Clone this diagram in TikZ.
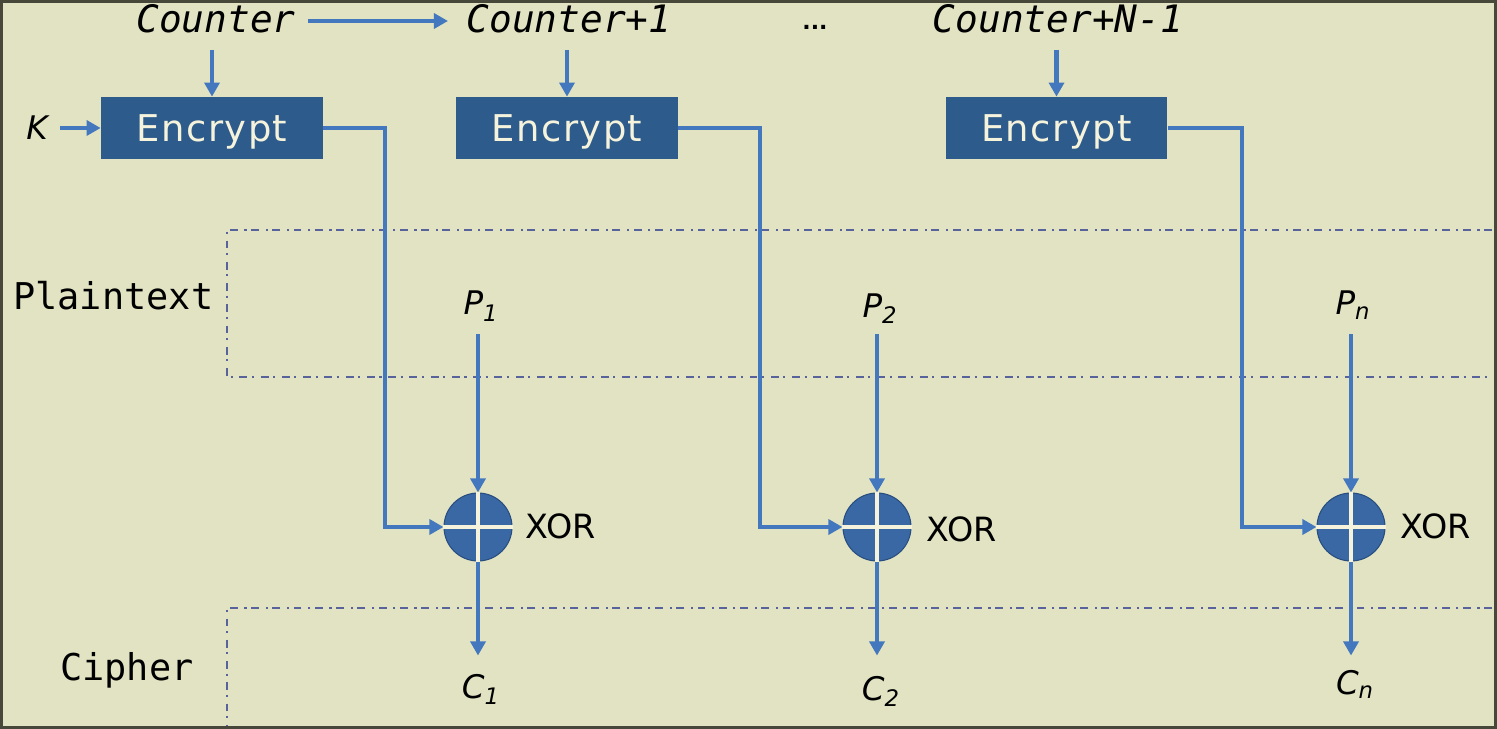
\documentclass[tikz,border=0pt]{standalone}
\usepackage{fontspec}
\newfontfamily\monof{DejaVu Sans Mono}
\newfontfamily\sansf{DejaVu Sans}
\newfontfamily\spacedf[LetterSpace=4]{DejaVu Sans}
\usetikzlibrary{arrows.meta,calc}
\definecolor{bg}{RGB}{225,227,195}
\definecolor{ablue}{RGB}{68,120,190}
\definecolor{boxblue}{RGB}{45,91,140}
\definecolor{xblue}{RGB}{58,104,165}
\definecolor{xdark}{RGB}{40,78,128}
\definecolor{cream}{RGB}{246,243,220}
\definecolor{ddcol}{RGB}{88,98,155}
\definecolor{framec}{RGB}{72,72,58}
\begin{document}
\begin{tikzpicture}[x=0.02cm,y=-0.02cm,
  conn/.style={draw=ablue, line width=2.3pt},
  arr/.style={conn, -{Triangle[length=8pt,width=8.5pt]}},
  ebox/.style={fill=boxblue, minimum width=4.44cm, minimum height=1.24cm, inner sep=0pt,
    text=cream, text depth=0pt, font=\spacedf\fontsize{21}{24}\selectfont},
  xorc/.style={circle, fill=xblue, draw=xdark, line width=0.6pt, minimum size=1.36cm, inner sep=0pt},
  crossl/.style={draw=cream, line width=2.2pt},
  ctr/.style={font=\monof\itshape\fontsize{21.5}{25}\selectfont, anchor=base, inner sep=0pt},
  lbl/.style={font=\monof\fontsize{21}{24}\selectfont, anchor=base west, inner sep=0pt},
  var/.style={font=\sansf\itshape\fontsize{18.5}{22}\selectfont, anchor=base, inner sep=0pt},
  xorl/.style={font=\sansf\fontsize{19}{22}\selectfont, anchor=base west, inner sep=0pt},
  dd/.style={draw=ddcol, line width=1.4pt, dash pattern=on 4.5pt off 2.6pt on 1.2pt off 3.8pt}]
\useasboundingbox (0,0) rectangle (1497,729);
\fill[bg] (0,0) rectangle (1497,729);

% region separators
\draw[dd] (1492,230) -- (227,230) -- (227,377) -- (1492,377);
\draw[dd] (1492,608) -- (227,608) -- (227,727);

% counters
\node[ctr] (c0) at (216,33) {Counter};
\node[ctr] (c1) at (569,33) {Counter+1};
\node[font=\sansf\bfseries\fontsize{12.5}{14}\selectfont, anchor=base, inner sep=0pt] (dots) at (815,30) {...};
\node[ctr] (c2) at (1058,33) {Counter+N-1};

% encrypt boxes
\node[ebox] (e0) at (212,128) {Encrypt};
\node[ebox] (e1) at (567,128) {Encrypt};
\node[ebox] (e2) at (1056.5,128) {Encrypt};
\node[var] (k) at (37,140) {K};

% xor
\node[xorc] (x0) at (478,527) {};
\node[xorc] (x1) at (877,527) {};
\node[xorc] (x2) at (1351,527) {};

% plaintext / cipher blocks
\node[var] (p0) at (481,315) {P\textsubscript{1}};
\node[var] (p1) at (880,317) {P\textsubscript{2}};
\node[var] (p2) at (1353,315) {P\textsubscript{n}};
\node[var] (q0) at (481,698) {C\textsubscript{1}};
\node[var] (q1) at (881,700) {C\textsubscript{2}};
\node[var] (q2) at (1355,694) {C\textsubscript{n}};

% labels
\node[lbl] (pt) at (13,310) {Plaintext};
\node[lbl] (ci) at (60,680) {Cipher};
\node[xorl] (l0) at (525,538) {XOR};
\node[xorl] (l1) at (926,541) {XOR};
\node[xorl] (l2) at (1400,538) {XOR};

% connectors
\draw[arr] ($(c0.base)+(92,-12)$) -- ($(c1.base)+(-121,-12)$);
\draw[arr] ($(e0.north)+(0,-47)$) -- (e0.north);
\draw[arr] ($(e1.north)+(0,-47)$) -- (e1.north);
\draw[arr] ($(e2.north)+(0,-47)$) -- (e2.north);
\draw[arr] ($(e0.west)+(-41,0)$) -- (e0.west);

\draw[arr] (e0.east) -- ++(62,0) |- (x0.west);
\draw[arr] (e1.east) -- ++(82,0) |- (x1.west);
\draw[arr] (e2.east) -- ++(74,0) |- (x2.west);

\draw[arr] ($(x0.north)+(0,-158)$) -- (x0.north);
\draw[arr] ($(x1.north)+(0,-158)$) -- (x1.north);
\draw[arr] ($(x2.north)+(0,-158)$) -- (x2.north);

\draw[arr] (x0.south) -- ++(0,94);
\draw[arr] (x1.south) -- ++(0,94);
\draw[arr] (x2.south) -- ++(0,94);

% xor crosses
\foreach \n in {x0,x1,x2}{
  \draw[crossl] (\n.north) -- (\n.south);
  \draw[crossl] (\n.west) -- (\n.east);
}

% frame
\draw[framec, line width=1.7pt] (1.5,1.5) rectangle (1495.5,727.5);
\end{tikzpicture}
\end{document}
